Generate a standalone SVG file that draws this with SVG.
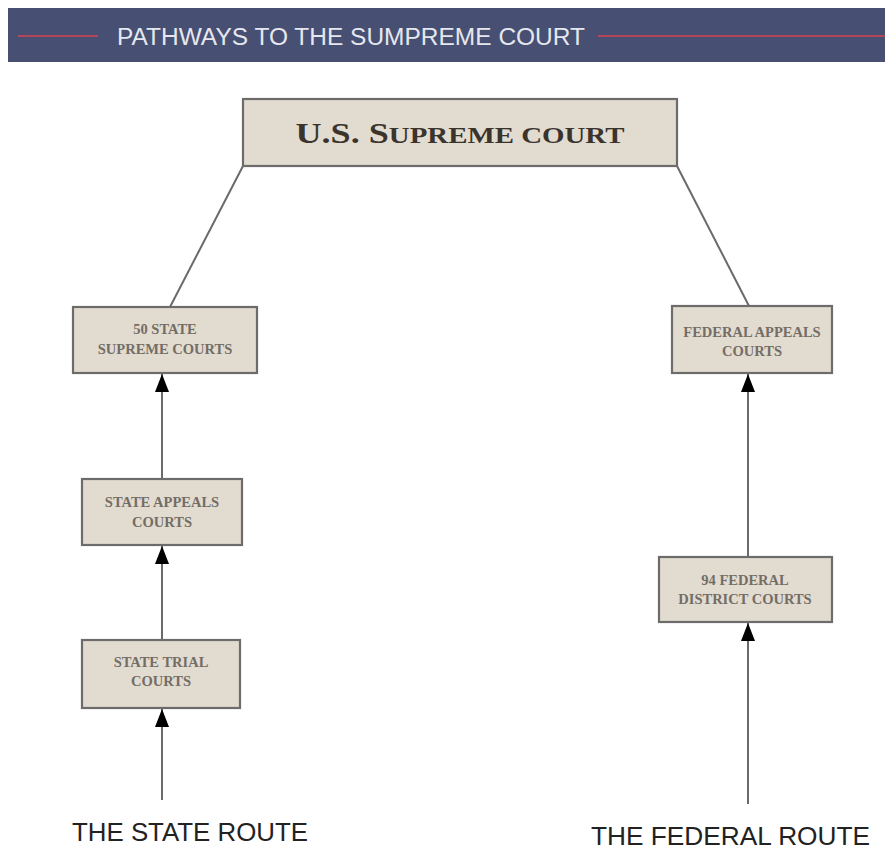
<svg xmlns="http://www.w3.org/2000/svg" width="885" height="850" viewBox="0 0 885 850">
<style>
.box{fill:#e2dbd0;stroke:#6e6c6a;stroke-width:2.2}
.lbl{font-family:"Liberation Serif",serif;font-size:14.5px;fill:#736d66;text-anchor:middle;font-weight:bold}
.route{font-family:"Liberation Sans Narrow","Liberation Sans",sans-serif;font-size:25px;fill:#222}
.con{stroke:#6a6a6a;stroke-width:2;fill:none}
</style>
<defs>
<marker id="ah" markerWidth="18" markerHeight="14" refX="18" refY="7" orient="auto" markerUnits="userSpaceOnUse" viewBox="0 0 18 14">
<path d="M18 7 L0 0 L0 14 Z" fill="#000"/>
</marker>
</defs>
<rect width="885" height="850" fill="#fff"/>
<g id="banner">
<rect x="8" y="8" width="877" height="54" fill="#474f72"/>
<line x1="18" y1="36" x2="98" y2="36" stroke="#b3475a" stroke-width="2"/>
<line x1="598" y1="36" x2="885" y2="36" stroke="#b3475a" stroke-width="2"/>
<text x="117" y="45" font-family="Liberation Sans Narrow,Liberation Sans,sans-serif" font-size="23" fill="#e6e7ee" textLength="468" lengthAdjust="spacingAndGlyphs">PATHWAYS TO THE SUMPREME COURT</text>
</g>
<g id="connectors">
<line class="con" x1="243" y1="166" x2="170" y2="307"/>
<line class="con" x1="677" y1="166" x2="749" y2="306"/>
<line class="con" x1="162" y1="479" x2="162" y2="374" marker-end="url(#ah)"/>
<line class="con" x1="162" y1="640" x2="162" y2="546" marker-end="url(#ah)"/>
<line class="con" x1="162" y1="800" x2="162" y2="709" marker-end="url(#ah)"/>
<line class="con" x1="748" y1="557" x2="748" y2="374" marker-end="url(#ah)"/>
<line class="con" x1="748" y1="804" x2="748" y2="623" marker-end="url(#ah)"/>
</g>
<g id="supreme">
<rect class="box" x="243" y="99" width="434" height="67"/>
<text x="460" y="143" text-anchor="middle" font-family="Liberation Serif,serif" font-weight="bold" fill="#3a342d" textLength="329" lengthAdjust="spacingAndGlyphs"><tspan font-size="30">U.S. S</tspan><tspan font-size="24">UPREME COURT</tspan></text>
</g>
<g id="state-supreme">
<rect class="box" x="73" y="307" width="184" height="66"/>
<text class="lbl" x="165" y="334">50 STATE</text>
<text class="lbl" x="165" y="354">SUPREME COURTS</text>
</g>
<g id="federal-appeals">
<rect class="box" x="672" y="306" width="160" height="67"/>
<text class="lbl" x="752" y="337">FEDERAL APPEALS</text>
<text class="lbl" x="752" y="356">COURTS</text>
</g>
<g id="state-appeals">
<rect class="box" x="82" y="479" width="160" height="66"/>
<text class="lbl" x="162" y="507">STATE APPEALS</text>
<text class="lbl" x="162" y="527">COURTS</text>
</g>
<g id="state-trial">
<rect class="box" x="82" y="640" width="158" height="68"/>
<text class="lbl" x="161" y="667">STATE TRIAL</text>
<text class="lbl" x="161" y="686">COURTS</text>
</g>
<g id="federal-district">
<rect class="box" x="659" y="557" width="173" height="65"/>
<text class="lbl" x="745" y="585">94 FEDERAL</text>
<text class="lbl" x="745" y="604">DISTRICT COURTS</text>
</g>
<g id="routes">
<text class="route" x="72" y="841" textLength="236" lengthAdjust="spacingAndGlyphs">THE STATE ROUTE</text>
<text class="route" x="591" y="845" textLength="279" lengthAdjust="spacingAndGlyphs">THE FEDERAL ROUTE</text>
</g>
</svg>
